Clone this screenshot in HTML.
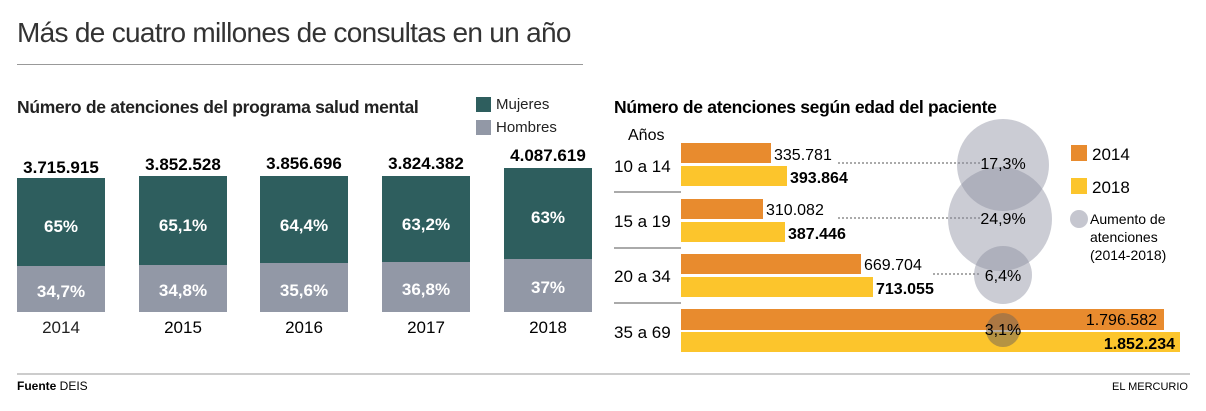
<!DOCTYPE html>
<html><head><meta charset="utf-8"><style>
body{margin:0;width:1206px;height:411px;background:#fff;position:relative;overflow:hidden;font-family:"Liberation Sans",sans-serif;color:#222}
.a{position:absolute;white-space:nowrap}
.b{font-weight:bold}
</style></head><body>
<div class="a" style="left:17px;top:17px;font-size:28px;color:#333;letter-spacing:-0.7px">Más de cuatro millones de consultas en un año</div>
<div class="a" style="left:17px;top:64px;width:566px;height:1px;background:#999"></div>
<div class="a b" style="left:17px;top:97px;font-size:17.5px;letter-spacing:-0.3px">Número de atenciones del programa salud mental</div>
<div class="a" style="left:476px;top:97px;width:15px;height:15px;background:#2e5e5e"></div>
<div class="a" style="left:496px;top:96px;font-size:15px">Mujeres</div>
<div class="a" style="left:476px;top:120px;width:15px;height:15px;background:#9298a6"></div>
<div class="a" style="left:496px;top:119px;font-size:15px">Hombres</div>
<svg class="a" style="left:0;top:0" width="600" height="360" font-family="Liberation Sans, sans-serif">
<g font-size="17" text-anchor="middle">
<rect x="17" y="178" width="88" height="88" fill="#2e5e5e"/><rect x="17" y="266" width="88" height="46" fill="#9298a6"/>
<text x="61" y="173" font-weight="bold">3.715.915</text><text x="61" y="232" fill="#fff" font-weight="bold">65%</text><text x="61" y="297" fill="#fff" font-weight="bold">34,7%</text><text x="61" y="333" fill="#222">2014</text>
<rect x="139" y="176" width="88" height="89" fill="#2e5e5e"/><rect x="139" y="265" width="88" height="47" fill="#9298a6"/>
<text x="183" y="170" font-weight="bold">3.852.528</text><text x="183" y="231" fill="#fff" font-weight="bold">65,1%</text><text x="183" y="296" fill="#fff" font-weight="bold">34,8%</text><text x="183" y="333">2015</text>
<rect x="260" y="176" width="88" height="87" fill="#2e5e5e"/><rect x="260" y="263" width="88" height="49" fill="#9298a6"/>
<text x="304" y="169" font-weight="bold">3.856.696</text><text x="304" y="231" fill="#fff" font-weight="bold">64,4%</text><text x="304" y="296" fill="#fff" font-weight="bold">35,6%</text><text x="304" y="333">2016</text>
<rect x="382" y="176" width="88" height="86" fill="#2e5e5e"/><rect x="382" y="262" width="88" height="50" fill="#9298a6"/>
<text x="426" y="169" font-weight="bold">3.824.382</text><text x="426" y="230" fill="#fff" font-weight="bold">63,2%</text><text x="426" y="295" fill="#fff" font-weight="bold">36,8%</text><text x="426" y="333">2017</text>
<rect x="504" y="168" width="88" height="91" fill="#2e5e5e"/><rect x="504" y="259" width="88" height="53" fill="#9298a6"/>
<text x="548" y="161" font-weight="bold">4.087.619</text><text x="548" y="223" fill="#fff" font-weight="bold">63%</text><text x="548" y="293" fill="#fff" font-weight="bold">37%</text><text x="548" y="333">2018</text>
</g></svg>
<svg class="a" style="left:0;top:0" width="1206" height="411" font-family="Liberation Sans, sans-serif">
<text x="614" y="113" font-size="17.5" font-weight="bold" letter-spacing="-0.3">Número de atenciones según edad del paciente</text>
<text x="628" y="140" font-size="16">Años</text>
<g stroke="#555" stroke-width="1"><line x1="614" y1="192" x2="681" y2="192"/><line x1="614" y1="248" x2="681" y2="248"/><line x1="614" y1="303" x2="681" y2="303"/></g>
<g font-size="17"><text x="614" y="172">10 a 14</text><text x="614" y="227">15 a 19</text><text x="614" y="282">20 a 34</text><text x="614" y="338">35 a 69</text></g>
<rect x="681" y="143" width="90" height="20" fill="#e88b2e"/><rect x="681" y="166" width="106" height="20" fill="#fcc52c"/>
<rect x="681" y="199" width="82" height="20" fill="#e88b2e"/><rect x="681" y="222" width="104" height="20" fill="#fcc52c"/>
<rect x="681" y="254" width="180" height="20" fill="#e88b2e"/><rect x="681" y="277" width="192" height="20" fill="#fcc52c"/>
<rect x="681" y="309" width="483" height="21" fill="#e88b2e"/><rect x="681" y="332" width="499" height="20" fill="#fcc52c"/>
<g stroke="#555" stroke-dasharray="2,2"><line x1="838" y1="163" x2="980" y2="163"/><line x1="838" y1="218" x2="980" y2="218"/><line x1="933" y1="274" x2="980" y2="274"/></g>
<g fill="#8c8ea0" fill-opacity="0.45"><circle cx="1003" cy="165" r="46"/><circle cx="1000" cy="219" r="52"/><circle cx="1003" cy="275" r="29"/></g>
<circle cx="1003" cy="330" r="17" fill="#7a6a55" fill-opacity="0.55"/>
<g font-size="16"><text x="774" y="160">335.781</text><text x="790" y="183" font-weight="bold">393.864</text>
<text x="766" y="215">310.082</text><text x="788" y="239" font-weight="bold">387.446</text>
<text x="864" y="270">669.704</text><text x="876" y="294" font-weight="bold">713.055</text>
<text x="1157" y="325" text-anchor="end">1.796.582</text><text x="1175" y="349" text-anchor="end" font-weight="bold">1.852.234</text></g>
<g font-size="16" text-anchor="middle"><text x="1003" y="169">17,3%</text><text x="1003" y="224">24,9%</text><text x="1003" y="281">6,4%</text><text x="1003" y="335">3,1%</text></g>
<rect x="1071" y="145" width="16" height="16" fill="#e88b2e"/><text x="1092" y="160" font-size="17">2014</text>
<rect x="1071" y="178" width="16" height="16" fill="#fcc52c"/><text x="1092" y="193" font-size="17">2018</text>
<circle cx="1079" cy="219" r="9" fill="#c5c6cf"/>
<g font-size="14"><text x="1090" y="224">Aumento de</text><text x="1090" y="242">atenciones</text><text x="1090" y="260">(2014-2018)</text></g>
<line x1="17" y1="374" x2="1190" y2="374" stroke="#999"/>
<text x="17" y="390" font-size="12"><tspan font-weight="bold">Fuente</tspan> DEIS</text>
<text x="1188" y="390" font-size="11" text-anchor="end">EL MERCURIO</text>
</svg>
</body></html>
